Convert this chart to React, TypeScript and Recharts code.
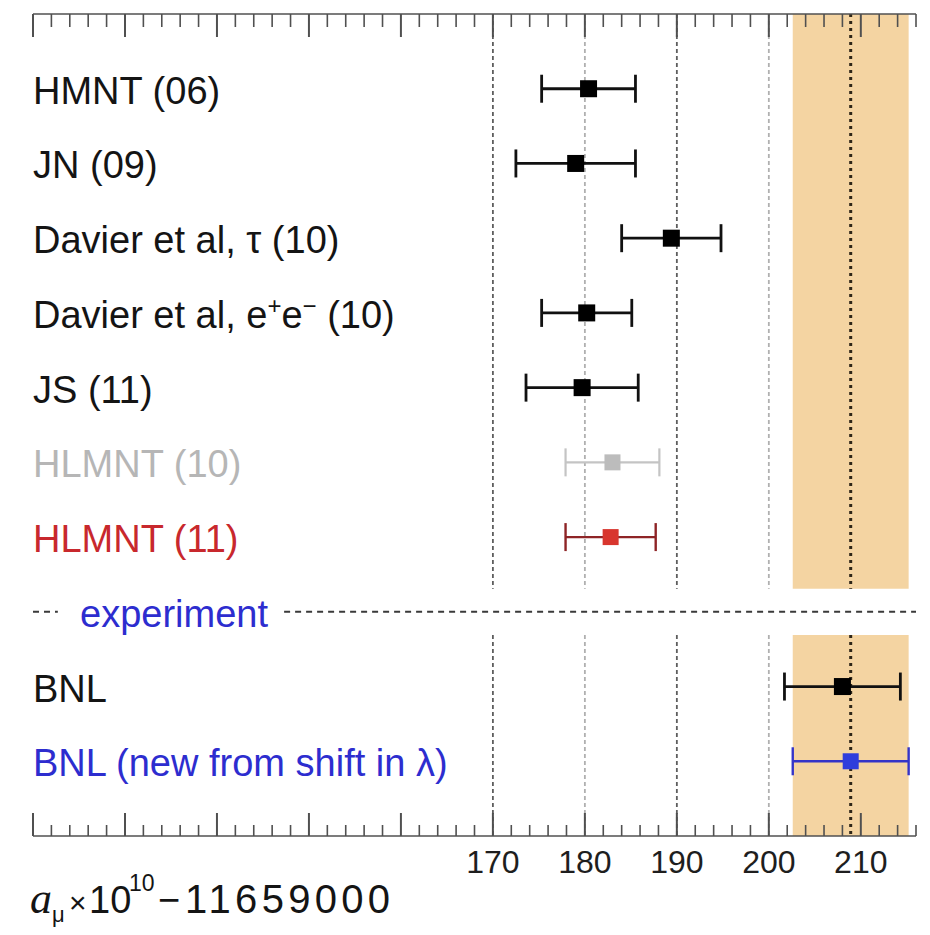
import React from 'react';
import { ScatterChart, Scatter, XAxis, YAxis, ErrorBar, ReferenceLine, ReferenceArea, Label } from 'recharts';

// ---- data ----
const rowLabels = [
  'HMNT (06)',
  'JN (09)',
  'Davier et al, τ (10)',
  'Davier et al, e^+e^− (10)',
  'JS (11)',
  'HLMNT (10)',
  'HLMNT (11)',
  'experiment',
  'BNL',
  'BNL (new from shift in λ)',
];
const rowPositions = [0, 1, 2, 3, 4, 5, 6, 7, 8, 9];
const labelColors = ['#141414', '#141414', '#141414', '#141414', '#141414', '#b6b6b6', '#c8282d', '#2d2dcf', '#141414', '#2d2dcf'];
const experimentRow = 7;

const blackRows = [0, 1, 2, 3, 4, 8];
const blackValues = [180.4, 179.0, 189.4, 180.2, 179.7, 208.0];
const blackErrors = [5.1, 6.5, 5.4, 4.9, 6.1, 6.3];

const grayRows = [5];
const grayValues = [183.0];
const grayErrors = [5.1];

const redRows = [6];
const redValues = [182.8];
const redErrors = [4.9];

const blueRows = [9];
const blueValues = [208.9];
const blueErrors = [6.3];

const bandValue = 208.9;
const bandError = 6.3;

const xDomain: [number, number] = [120, 216];
const yDomain: [number, number] = [-1, 10];
const gapRange = [6.69, 7.31];
const majorTicks = [120, 130, 140, 150, 160, 170, 180, 190, 200, 210];
const labeledTicks = [170, 180, 190, 200, 210];
const minorStep = 2;
const gridDark = [170, 190];
const gridLight = [180, 200];
const experimentDashLeft = [120, 122.7];
const experimentDashRight = [147.3, 216];

const allTicks: number[] = [];
for (let v = xDomain[0]; v <= xDomain[1]; v += minorStep) allTicks.push(v);

const toPoints = (rows: number[], values: number[], errors: number[]) =>
  rows.map((r, i) => ({ x: values[i], y: r, err: errors[i] }));

const FONT = '"Liberation Sans", Arial, Helvetica, sans-serif';

const makeSquare = (fill: string, size: number) => (props: any) => {
  const { cx, cy } = props;
  if (cx == null || cy == null) return null;
  return <rect x={cx - size / 2} y={cy - size / 2} width={size} height={size} fill={fill} />;
};

const isMajor = (v: number) => majorTicks.indexOf(v) >= 0;

const TopTick = (props: any) => {
  const { x, y, payload } = props;
  const len = isMajor(payload.value) ? 23 : 13;
  return <line x1={x} x2={x} y1={y} y2={y + len} stroke="#505050" strokeWidth={isMajor(payload.value) ? 2 : 1.6} />;
};

const BottomTick = (props: any) => {
  const { x, y, payload } = props;
  const major = isMajor(payload.value);
  const len = major ? 23 : 11;
  return (
    <g>
      <line x1={x} x2={x} y1={y} y2={y - len} stroke="#505050" strokeWidth={major ? 2 : 1.6} />
      {labeledTicks.indexOf(payload.value) >= 0 && (
        <text x={x} y={y + 37} textAnchor="middle" fontFamily={FONT} fontSize={32} fill="#1e1e1e">
          {payload.value}
        </text>
      )}
    </g>
  );
};

const renderLabelParts = (s: string) => {
  const parts = s.split(/(\^.)/).filter((p) => p.length > 0);
  const out: any[] = [];
  let raised = false;
  parts.forEach((p, k) => {
    if (p.startsWith('^')) {
      out.push(
        <tspan key={k} fontSize={24} dy={raised ? 0 : -14}>
          {p.slice(1)}
        </tspan>
      );
      raised = true;
    } else {
      out.push(
        <tspan key={k} dy={raised ? 14 : 0}>
          {p}
        </tspan>
      );
      raised = false;
    }
  });
  return out;
};

const RowTick = (props: any) => {
  const { x, y, payload } = props;
  const i = payload.value as number;
  const indent = i === experimentRow ? 47 : 0;
  return (
    <text x={x + indent} y={y + 15} textAnchor="start" fontFamily={FONT} fontSize={38} fill={labelColors[i]}>
      {renderLabelParts(rowLabels[i])}
    </text>
  );
};

const AxisTitle = () => (
  <text y={913} fontFamily={FONT} fontSize={38} fill="#141414">
    <tspan x={30} fontFamily='"Liberation Serif", "Times New Roman", serif' fontStyle="italic" fontSize={44}>a</tspan>
    <tspan x={52} dy={9} fontSize={22}>μ</tspan>
    <tspan x={69} dy={-9} fontSize={30}>×</tspan>
    <tspan x={89}>10</tspan>
    <tspan x={129} dy={-22} fontSize={23}>10</tspan>
    <tspan x={158} dy={22}>−</tspan>
    <tspan x={185} fontSize={40} letterSpacing={4.3}>11659000</tspan>
  </text>
);

const blackData = toPoints(blackRows, blackValues, blackErrors);
const grayData = toPoints(grayRows, grayValues, grayErrors);
const redData = toPoints(redRows, redValues, redErrors);
const blueData = toPoints(blueRows, blueValues, blueErrors);

export default function App() {
  const ax = { xAxisId: 'bottom', yAxisId: 'rows' } as const;
  const segments = [
    [yDomain[0], gapRange[0]],
    [gapRange[1], yDomain[1]],
  ];
  return (
    <div style={{ position: 'absolute', left: 0, top: 0, width: 930, height: 935, background: '#fff' }}>
      <ScatterChart width={930} height={935} margin={{ top: 0, right: 14, bottom: 0, left: 32 }}>
        <XAxis
          xAxisId="top"
          orientation="top"
          type="number"
          dataKey="x"
          domain={xDomain}
          ticks={allTicks}
          interval={0}
          height={14}
          tickSize={0}
          tickMargin={0}
          tickLine={false}
          axisLine={{ stroke: '#505050', strokeWidth: 1.6 }}
          tick={(p: any) => <TopTick {...p} />}
          allowDataOverflow
        />
        <XAxis
          xAxisId="bottom"
          orientation="bottom"
          type="number"
          dataKey="x"
          domain={xDomain}
          ticks={allTicks}
          interval={0}
          height={99}
          tickSize={0}
          tickMargin={0}
          tickLine={false}
          axisLine={{ stroke: '#505050', strokeWidth: 1.6 }}
          tick={(p: any) => <BottomTick {...p} />}
          allowDataOverflow
        >
          <Label content={() => <AxisTitle />} />
        </XAxis>
        <YAxis
          yAxisId="rows"
          type="number"
          dataKey="y"
          domain={yDomain}
          reversed
          ticks={rowPositions}
          interval={0}
          width={1}
          tickSize={0}
          tickMargin={0}
          tickLine={false}
          axisLine={false}
          tick={(p: any) => <RowTick {...p} />}
          allowDataOverflow
        />

        {segments.map((s, k) => (
          <ReferenceArea
            key={'band' + k}
            {...ax}
            x1={bandValue - bandError}
            x2={bandValue + bandError}
            y1={s[0]}
            y2={s[1]}
            fill="#f4d4a2"
            fillOpacity={1}
            stroke="none"
          />
        ))}

        {segments.map((s, k) =>
          gridDark.map((g) => (
            <ReferenceLine
              key={'gd' + k + g}
              {...ax}
              segment={[{ x: g, y: s[0] }, { x: g, y: s[1] }]}
              stroke="#5e5e5e"
              strokeWidth={1.8}
              strokeDasharray="4 3"
            />
          ))
        )}
        {segments.map((s, k) =>
          gridLight.map((g) => (
            <ReferenceLine
              key={'gl' + k + g}
              {...ax}
              segment={[{ x: g, y: s[0] }, { x: g, y: s[1] }]}
              stroke="#b0b0b0"
              strokeWidth={1.8}
              strokeDasharray="4 3"
            />
          ))
        )}
        {segments.map((s, k) => (
          <ReferenceLine
            key={'c' + k}
            {...ax}
            segment={[{ x: bandValue, y: s[0] }, { x: bandValue, y: s[1] }]}
            stroke="#2e2618"
            strokeWidth={3}
            strokeDasharray="3 4"
          />
        ))}

        <ReferenceLine
          {...ax}
          segment={[{ x: experimentDashLeft[0], y: experimentRow }, { x: experimentDashLeft[1], y: experimentRow }]}
          stroke="#3a3a3a"
          strokeWidth={2}
          strokeDasharray="6 5"
        />
        <ReferenceLine
          {...ax}
          segment={[{ x: experimentDashRight[0], y: experimentRow }, { x: experimentDashRight[1], y: experimentRow }]}
          stroke="#3a3a3a"
          strokeWidth={2}
          strokeDasharray="6 5"
        />

        <Scatter {...ax} data={grayData} dataKey="y" isAnimationActive={false} shape={makeSquare('#bcbcbc', 16)}>
          <ErrorBar dataKey="err" direction="x" width={14} stroke="#c4c4c4" strokeWidth={2.2} />
        </Scatter>
        <Scatter {...ax} data={redData} dataKey="y" isAnimationActive={false} shape={makeSquare('#d8362e', 16)}>
          <ErrorBar dataKey="err" direction="x" width={14} stroke="#8e2426" strokeWidth={2.4} />
        </Scatter>
        <Scatter {...ax} data={blueData} dataKey="y" isAnimationActive={false} shape={makeSquare('#2f3ddc', 16)}>
          <ErrorBar dataKey="err" direction="x" width={14} stroke="#3434c8" strokeWidth={2.4} />
        </Scatter>
        <Scatter {...ax} data={blackData} dataKey="y" isAnimationActive={false} shape={makeSquare('#000000', 17)}>
          <ErrorBar dataKey="err" direction="x" width={14} stroke="#111111" strokeWidth={2.8} />
        </Scatter>
      </ScatterChart>
    </div>
  );
}
